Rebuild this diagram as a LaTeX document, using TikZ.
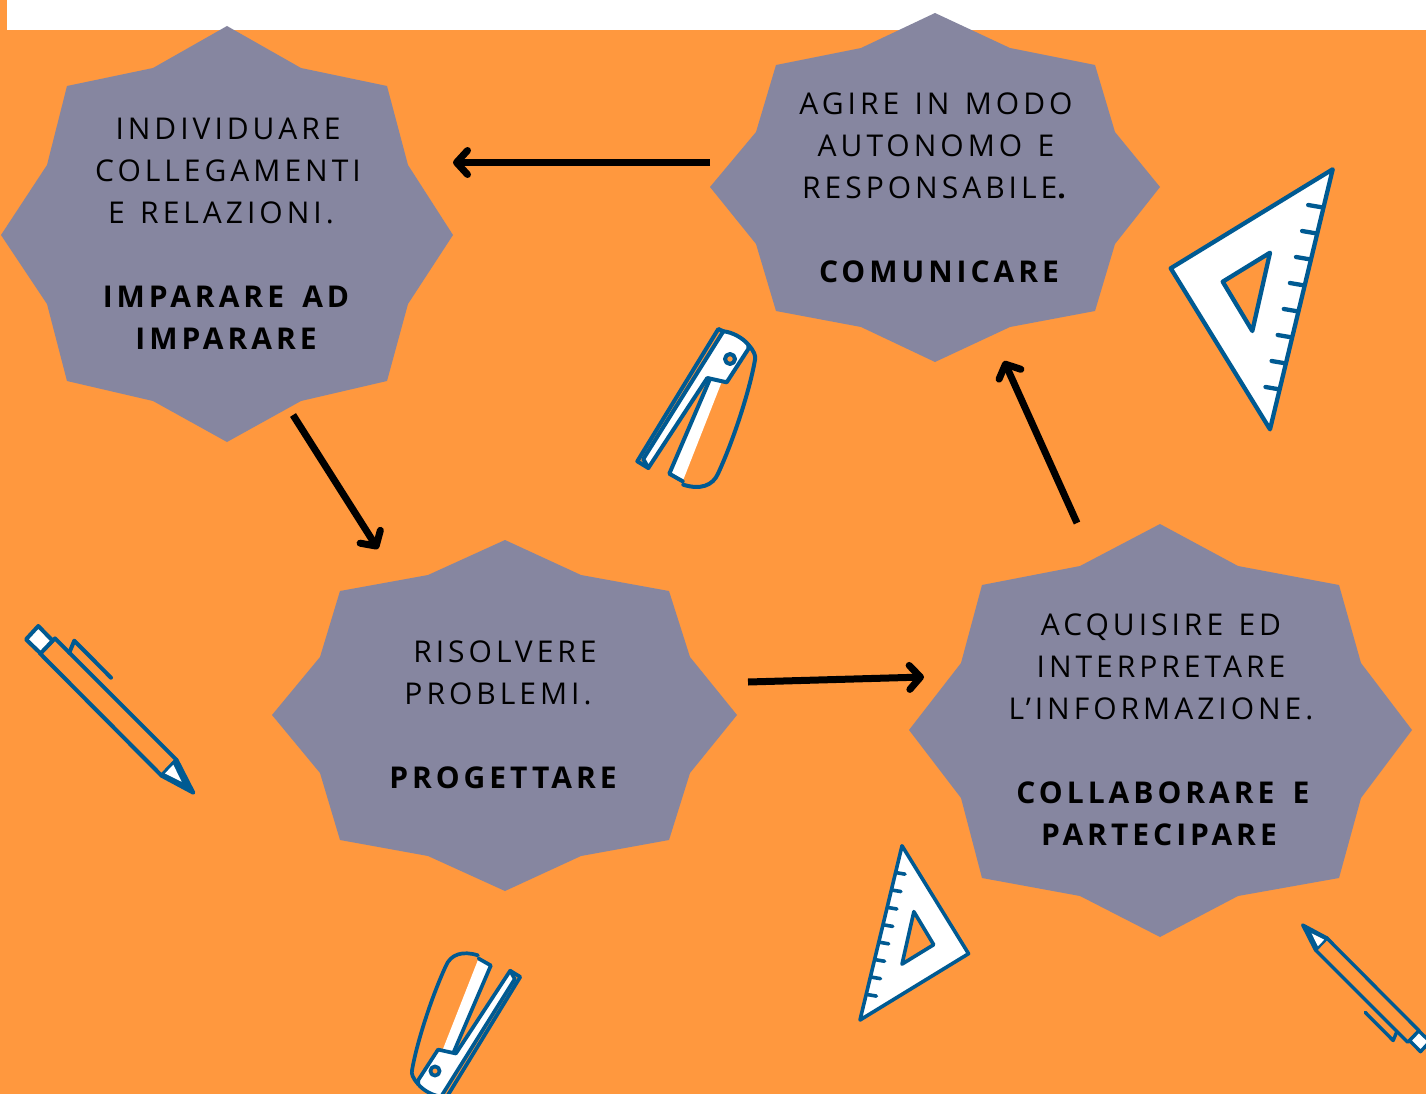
\documentclass[tikz,border=0pt]{standalone}
\usepackage{fontspec}
\setmainfont{Open Sans}
\newfontfamily\spacedfont[LetterSpace=13.3,WordSpace=1.3,BoldFeatures={WordSpace=1.55}]{Open Sans}
\usetikzlibrary{arrows.meta}
\definecolor{orangebg}{RGB}{255,152,62}
\definecolor{blobgrey}{RGB}{134,134,160}
\definecolor{iconblue}{RGB}{0,90,146}
\tikzset{
  blob/.style={fill=blobgrey},
  blobtext/.style={align=center,text=black,inner sep=0pt,font=\fontsize{30}{42}\selectfont\spacedfont},
  link/.style={->,line width=7pt},
  iconline/.style={draw=iconblue,line join=round,line cap=round},
  setsquare/.pic={
    \path[iconline,fill=white,even odd rule] (0,0)--(-162,99)--(-62.7,260)--cycle
      (-62.7,83.4)--(-110,112.4)--(-80.4,161.7)--cycle;
    \foreach \i in {0,...,7}
      \draw[iconline] ({-11-6.1*\i},{38+26*\i})--++(-13.5,-2.3);
  },
  stapler/.pic={
    \fill[white] (-20.5,21)--(-60.7,114.7)--(-47.3,122.3)--(-8.3,23)--cycle;
    \draw[iconline] (-20.5,21)--(-60.7,114.7)--(-47.3,122.3);
    \draw[iconline] (-6.7,-27.7)--(-11.7,-30)--(-92.7,102.3)--(-81.7,109);
    \path[iconline,fill=white] (-6.7,-27.7) .. controls (2,-27) and (13,-21) .. (18.3,-14.3)--(18.3,-10)
      --(-3.3,23.3)--(-22.7,19)--(-81.7,109)--(-86.7,100)--cycle;
    \draw[iconline] (18.3,-14.3) .. controls (24,-8) and (26,-3) .. (25,0.7)
      .. controls (20,30) and (4,80) .. (-11.7,114)
      .. controls (-17,127) and (-30,131) .. (-46.7,125.7);
    \path[iconline,fill=orangebg] (0,0) circle[radius=5];
  },
  pen/.pic={
    \path[iconline] (-16.7,-32.7)--(-138.3,-154.3)--(-153.3,-139.3)--(-31.7,-17)--cycle;
    \path[iconline,fill=white] (-155,-166.7)--(-140.7,-152)--(-152.7,-139.3)--(-167.3,-153.3)--cycle;
    \path[iconline,fill=iconblue] (0,0)--(-16.7,-32.7)--(-31.7,-17)--cycle;
    \fill[white] (-20,-28)--(-28.3,-19.3)--(-11.7,-11)--cycle;
    \draw[iconline] (-124,-140)--(-119,-152)--(-82.3,-115);
  },
}
\begin{document}
\begin{tikzpicture}[x=1pt,y=-1pt,>={Straight Barb[round,length=11pt,width=24pt]}]
\clip (0,0) rectangle (1426,1094);
\fill[orangebg] (0,0) rectangle (1426,1094);
\fill[white] (7,0) rectangle (1426,30);

% the four blobs
\fill[blob] (227,26)--(301,68)--(387,86)--(408,165)--(453,235)--(408,304)--(387,381)--(301,401)
  --(227,442)--(153,401)--(67,381)--(47,304)--(1,235)--(47,165)--(67,86)--(153,68)--cycle;
\fill[blob] (935,13)--(1010,48)--(1095,65)--(1115,132)--(1160,187)--(1115,244)--(1095,311)--(1010,327)
  --(935,362)--(861,327)--(776,311)--(756,244)--(710,187)--(756,132)--(776,65)--(861,48)--cycle;
\fill[blob] (505,540)--(581,575)--(669,591)--(690,657)--(737,715)--(690,773)--(669,840)--(581,856)
  --(505,891)--(428,856)--(340,840)--(320,773)--(272,715)--(320,657)--(340,591)--(428,575)--cycle;
\fill[blob] (1160,524)--(1238,566)--(1339,585)--(1361,663)--(1412,730)--(1361,798)--(1339,878)--(1238,896)
  --(1160,937)--(1080,896)--(982,878)--(961,798)--(909,730)--(961,663)--(982,585)--(1080,566)--cycle;

\node[blobtext] (imparare) at (228,233.7) {INDIVIDUARE\\COLLEGAMENTI\\E RELAZIONI.\kern14pt\\[42pt]\textbf{IMPARARE AD}\\\textbf{IMPARARE}};
\node[blobtext] (comunicare) at (936,187.7) {AGIRE IN MODO\\AUTONOMO E\\RESPONSABILE\textbf{.}\\[42pt]\hspace*{10pt}\textbf{COMUNICARE}};
\node[blobtext] (progettare) at (505,714.7) {RISOLVERE\\PROBLEMI.\kern14pt\\[42pt]\textbf{PROGETTARE}};
\node[blobtext] (collaborare) at (1161,729.7) {ACQUISIRE ED\\INTERPRETARE\\L’INFORMAZIONE.\\[42pt]\hspace*{8pt}\textbf{COLLABORARE E}\\\textbf{PARTECIPARE}};

% arrow ends
\coordinate (comOut) at (710,162.5);
\coordinate (impIn) at (453,162.5);
\coordinate (impOut) at (293,415);
\coordinate (proIn) at (378,549);
\coordinate (proOut) at (748,682);
\coordinate (colIn) at (924,677);
\coordinate (colOut) at (1077,523);
\coordinate (comIn) at (1004,361);
\draw[link] (comOut)--(impIn);
\draw[link] (impOut)--(proIn);
\draw[link] (proOut)--(colIn);
\draw[link] (colOut)--(comIn);

% stationery
\pic[line width=4.3pt] at (1332.7,169.3) {setsquare};
\pic[line width=3.6pt,scale=.67,rotate=180] at (860,1020) {setsquare};
\pic[line width=4pt] at (730,359) {stapler};
\pic[line width=3.7pt,scale=.92,rotate=180] at (435,1071) {stapler};
\pic[line width=4pt] at (193.3,792.7) {pen};
\pic[line width=3.4pt,scale=.76,rotate=180] at (1302.7,925) {pen};
\end{tikzpicture}
\end{document}
